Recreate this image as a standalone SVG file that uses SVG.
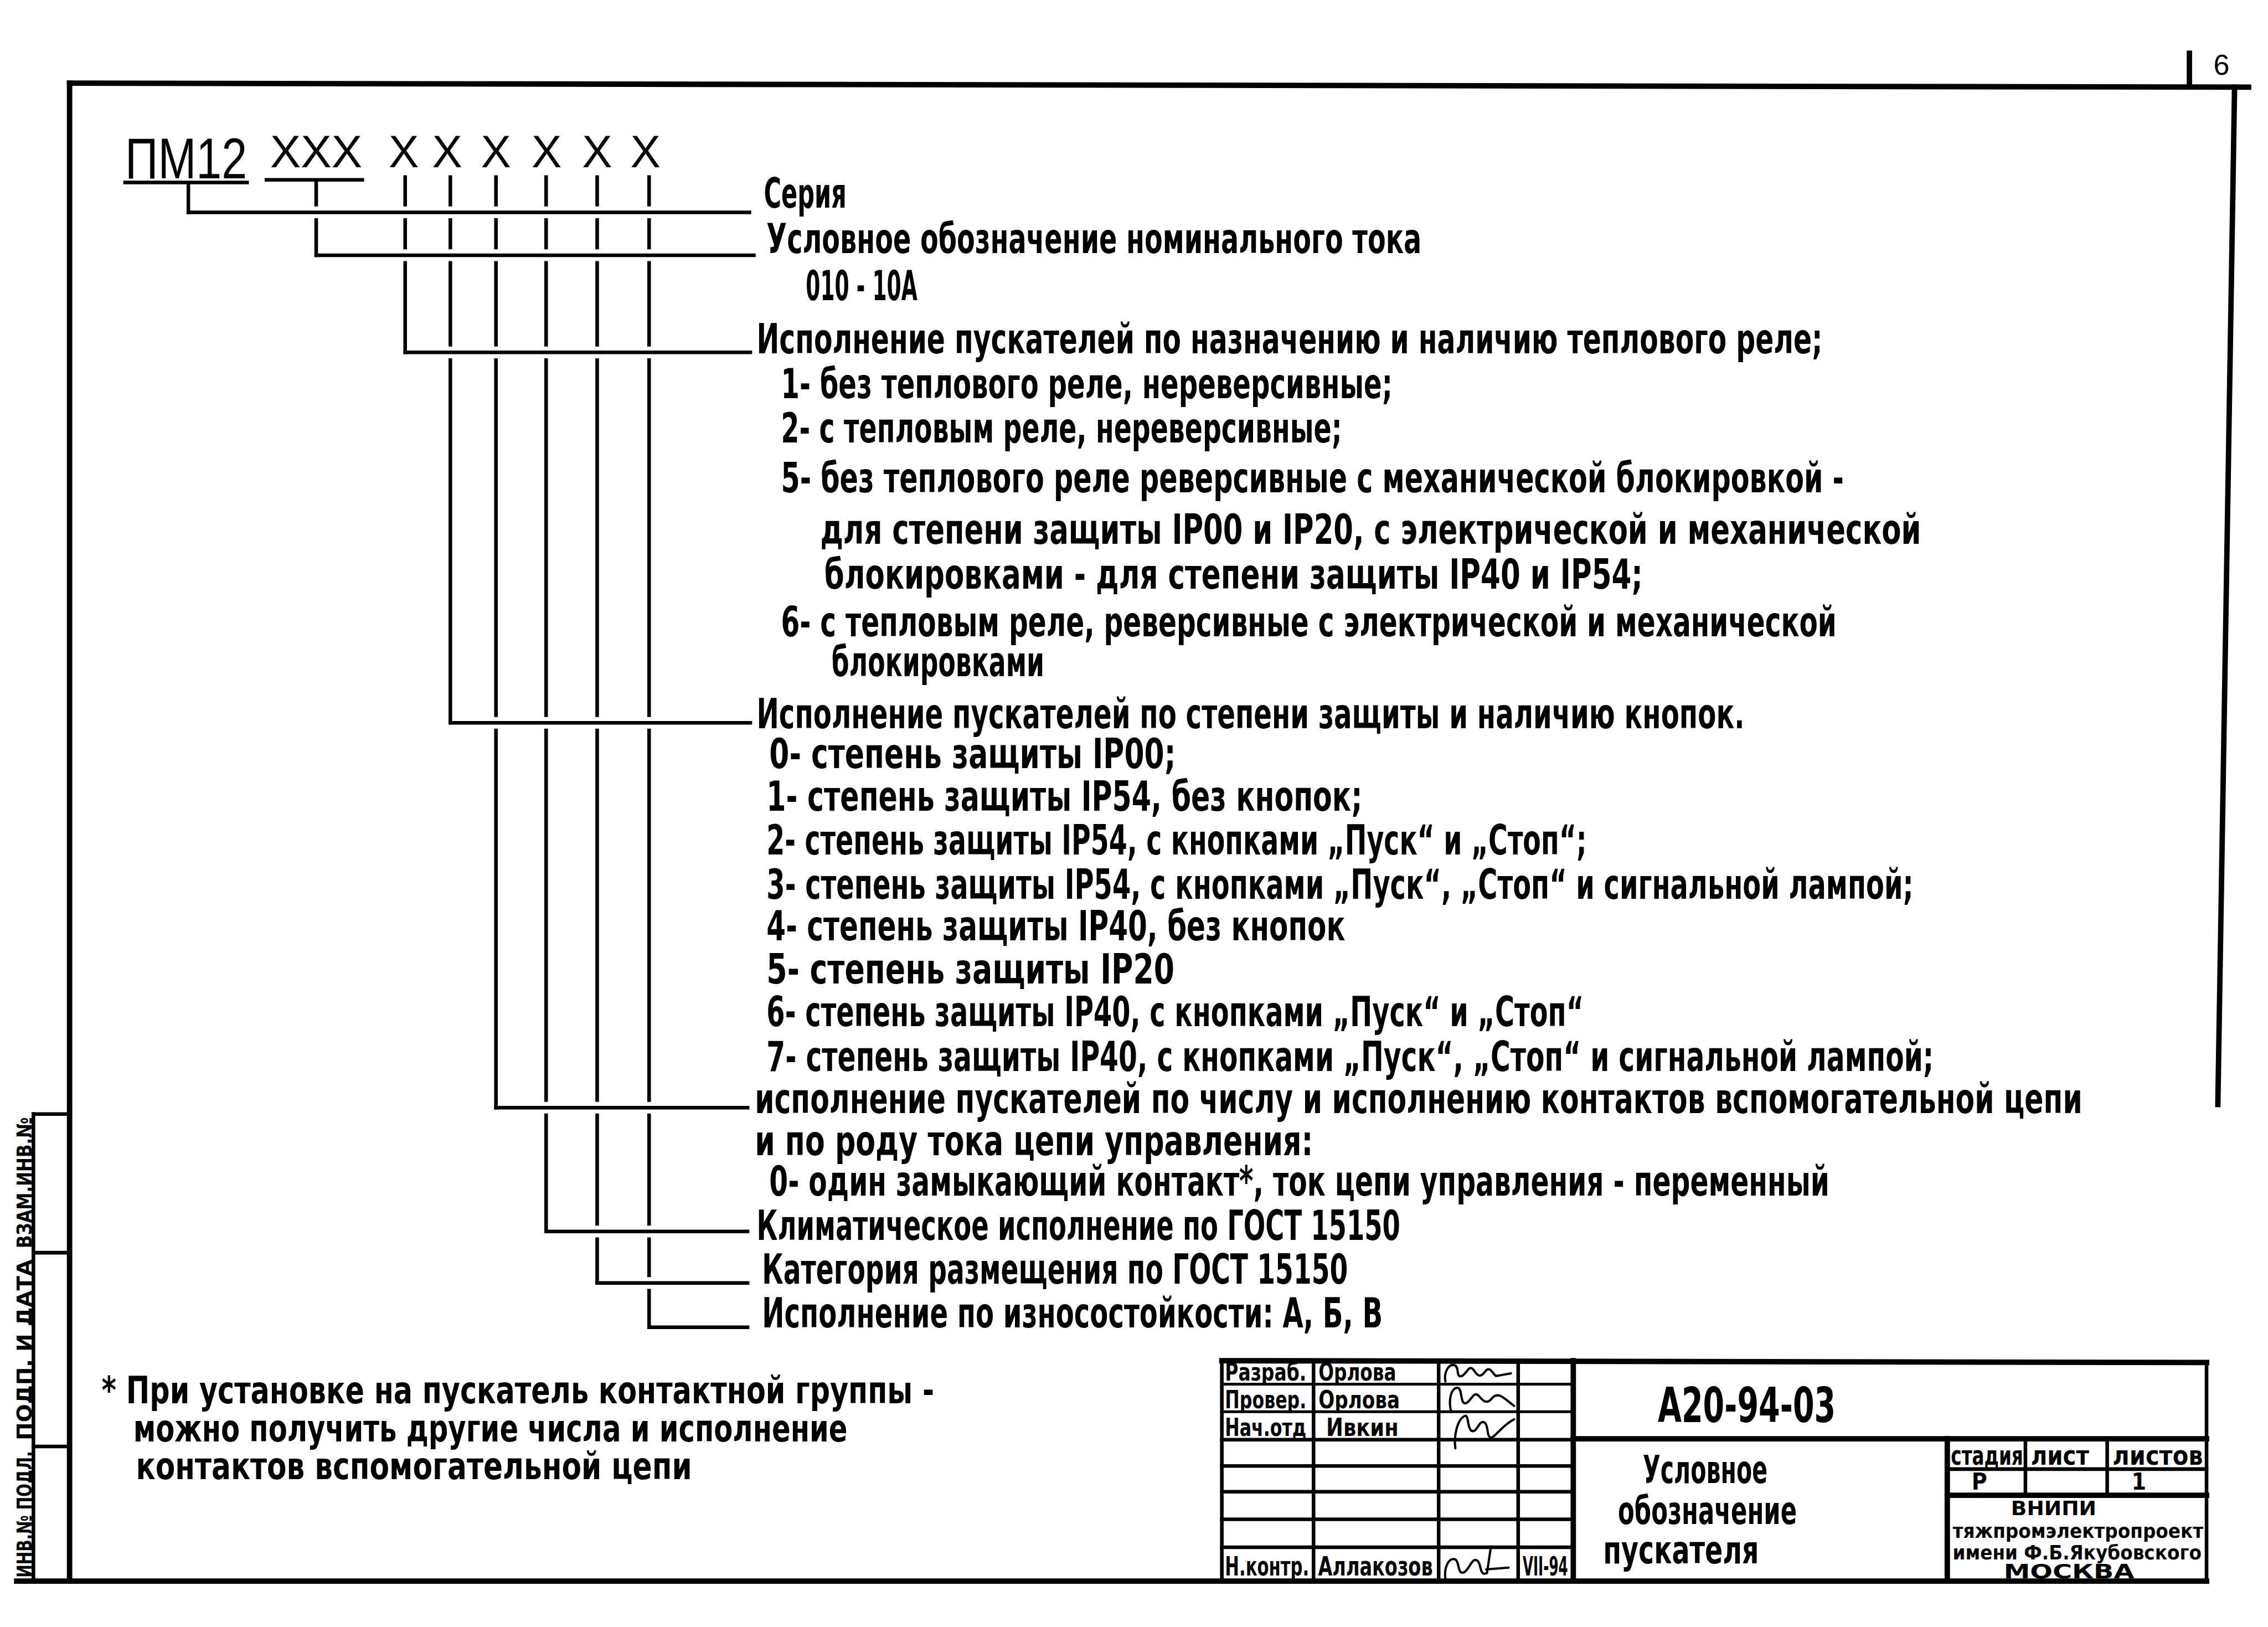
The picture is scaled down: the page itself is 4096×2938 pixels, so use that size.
<svg xmlns="http://www.w3.org/2000/svg" width="4096" height="2938" viewBox="0 0 4096 2938">
<style>
.t{font-family:"Liberation Sans Narrow","DejaVu Sans Condensed","Liberation Sans",sans-serif;font-weight:bold;font-size:92px;fill:#000}
.h{font-family:"Liberation Sans Narrow","Liberation Sans",sans-serif;font-weight:normal;fill:#000}
.s{font-family:"Liberation Sans Narrow","DejaVu Sans Condensed","Liberation Sans",sans-serif;font-weight:bold;fill:#000}
.fr{stroke:#000;stroke-width:12;fill:none;stroke-linecap:square}
.ln{stroke:#000;stroke-width:8;fill:none;stroke-linecap:square}
.th{stroke:#000;stroke-width:6;fill:none}
.halo{stroke:#fff;stroke-width:26;fill:none}
.sig{stroke:#000;stroke-width:5;fill:none;stroke-linecap:round;stroke-linejoin:round}
</style>
<rect width="4096" height="2938" fill="#fff"/>
<g transform="scale(0.81577)">
<g id="frame">
<line class="fr" x1="154" y1="184" x2="4978" y2="193"/>
<line class="fr" x1="154" y1="184" x2="154" y2="3500"/>
<line class="fr" x1="37" y1="3500" x2="4885" y2="3500"/>
<line class="fr" x1="4947" y1="193" x2="4910" y2="2445"/>
<line class="fr" x1="4847" y1="118" x2="4847" y2="190"/>
<text class="h" x="4918" y="165" font-size="64" text-anchor="middle">6</text>
</g>
<g id="stamp">
<line class="ln" x1="74" y1="2466" x2="74" y2="3500"/>
<line class="ln" x1="74" y1="2466" x2="154" y2="2466"/>
<line class="ln" x1="74" y1="2773" x2="154" y2="2773"/>
<line class="ln" x1="74" y1="3202" x2="154" y2="3202"/>
<text class="s" font-size="46" transform="translate(70,2618) rotate(-90)" text-anchor="middle" textLength="290" lengthAdjust="spacingAndGlyphs">ВЗАМ.ИНВ.№</text>
<text class="s" font-size="46" transform="translate(70,2988) rotate(-90)" text-anchor="middle" textLength="400" lengthAdjust="spacingAndGlyphs">ПОДП. И ДАТА</text>
<text class="s" font-size="46" transform="translate(70,3352) rotate(-90)" text-anchor="middle" textLength="280" lengthAdjust="spacingAndGlyphs">ИНВ.№ ПОДЛ.</text>
</g>
<g id="code">
<text class="h" x="277" y="395" font-size="128" textLength="270" lengthAdjust="spacingAndGlyphs">ПМ12</text>
<line class="ln" x1="277" y1="404" x2="547" y2="404"/>
<text class="h" x="598" y="370" font-size="100" textLength="204" lengthAdjust="spacingAndGlyphs">XXX</text>
<line class="ln" x1="590" y1="398" x2="802" y2="398"/>
<g font-size="100" text-anchor="middle">
<text class="h" x="894" y="370">X</text>
<text class="h" x="990" y="370">X</text>
<text class="h" x="1098" y="370">X</text>
<text class="h" x="1210" y="370">X</text>
<text class="h" x="1322" y="370">X</text>
<text class="h" x="1429" y="370">X</text>
</g>
</g>
<g id="connectors">
<line class="ln" x1="897" y1="392" x2="897" y2="780"/>
<line class="ln" x1="997" y1="392" x2="997" y2="1600"/>
<line class="ln" x1="1098" y1="392" x2="1098" y2="2452"/>
<line class="ln" x1="1209" y1="392" x2="1209" y2="2726"/>
<line class="ln" x1="1322" y1="392" x2="1322" y2="2840"/>
<line class="ln" x1="1437" y1="392" x2="1437" y2="2938"/>
<line class="ln" x1="700" y1="406" x2="700" y2="565"/>
<line class="ln" x1="417" y1="410" x2="417" y2="470"/>
<line class="halo" x1="430" y1="470" x2="1659" y2="470"/>
<line class="ln" x1="417" y1="470" x2="1659" y2="470"/>
<line class="halo" x1="713" y1="565" x2="1669" y2="565"/>
<line class="ln" x1="700" y1="565" x2="1669" y2="565"/>
<line class="halo" x1="910" y1="780" x2="1661" y2="780"/>
<line class="ln" x1="897" y1="780" x2="1661" y2="780"/>
<line class="halo" x1="1010" y1="1600" x2="1661" y2="1600"/>
<line class="ln" x1="997" y1="1600" x2="1661" y2="1600"/>
<line class="halo" x1="1111" y1="2452" x2="1655" y2="2452"/>
<line class="ln" x1="1098" y1="2452" x2="1655" y2="2452"/>
<line class="halo" x1="1222" y1="2726" x2="1655" y2="2726"/>
<line class="ln" x1="1209" y1="2726" x2="1655" y2="2726"/>
<line class="halo" x1="1335" y1="2840" x2="1655" y2="2840"/>
<line class="ln" x1="1322" y1="2840" x2="1655" y2="2840"/>
<line class="ln" x1="1437" y1="2938" x2="1655" y2="2938"/>
</g>
<g id="labels">
<text class="t" x="1691" y="460" textLength="183" lengthAdjust="spacingAndGlyphs">Серия</text>
<text class="t" x="1697" y="560" textLength="1450" lengthAdjust="spacingAndGlyphs">Условное обозначение номинального тока</text>
<text class="t" x="1784" y="665" textLength="247" lengthAdjust="spacingAndGlyphs">010 - 10А</text>
<text class="t" x="1675" y="782" textLength="2360" lengthAdjust="spacingAndGlyphs">Исполнение пускателей по назначению и наличию теплового реле;</text>
<text class="t" x="1729" y="881" textLength="1354" lengthAdjust="spacingAndGlyphs">1- без теплового реле, нереверсивные;</text>
<text class="t" x="1729" y="979" textLength="1242" lengthAdjust="spacingAndGlyphs">2- с тепловым реле, нереверсивные;</text>
<text class="t" x="1729" y="1090" textLength="2353" lengthAdjust="spacingAndGlyphs">5- без теплового реле реверсивные с механической блокировкой -</text>
<text class="t" x="1816" y="1204" textLength="2437" lengthAdjust="spacingAndGlyphs">для степени защиты IP00 и IP20, с электрической и механической</text>
<text class="t" x="1825" y="1303" textLength="1812" lengthAdjust="spacingAndGlyphs">блокировками - для степени защиты IP40 и IP54;</text>
<text class="t" x="1729" y="1409" textLength="2337" lengthAdjust="spacingAndGlyphs">6- с тепловым реле, реверсивные с электрической и механической</text>
<text class="t" x="1841" y="1497" textLength="471" lengthAdjust="spacingAndGlyphs">блокировками</text>
<text class="t" x="1675" y="1612" textLength="2187" lengthAdjust="spacingAndGlyphs">Исполнение пускателей по степени защиты и наличию кнопок.</text>
<text class="t" x="1703" y="1700" textLength="900" lengthAdjust="spacingAndGlyphs">0- степень защиты IP00;</text>
<text class="t" x="1697" y="1795" textLength="1319" lengthAdjust="spacingAndGlyphs">1- степень защиты IP54, без кнопок;</text>
<text class="t" x="1697" y="1891" textLength="1816" lengthAdjust="spacingAndGlyphs">2- степень защиты IP54, с кнопками „Пуск“ и „Стоп“;</text>
<text class="t" x="1697" y="1989" textLength="2539" lengthAdjust="spacingAndGlyphs">3- степень защиты IP54, с кнопками „Пуск“, „Стоп“ и сигнальной лампой;</text>
<text class="t" x="1697" y="2082" textLength="1281" lengthAdjust="spacingAndGlyphs">4- степень защиты IP40, без кнопок</text>
<text class="t" x="1697" y="2177" textLength="903" lengthAdjust="spacingAndGlyphs">5- степень защиты IP20</text>
<text class="t" x="1697" y="2272" textLength="1809" lengthAdjust="spacingAndGlyphs">6- степень защиты IP40, с кнопками „Пуск“ и „Стоп“</text>
<text class="t" x="1697" y="2371" textLength="2584" lengthAdjust="spacingAndGlyphs">7- степень защиты IP40, с кнопками „Пуск“, „Стоп“ и сигнальной лампой;</text>
<text class="t" x="1671" y="2464" textLength="2939" lengthAdjust="spacingAndGlyphs">исполнение пускателей по числу и исполнению контактов вспомогательной цепи</text>
<text class="t" x="1671" y="2557" textLength="1236" lengthAdjust="spacingAndGlyphs">и по роду тока цепи управления:</text>
<text class="t" x="1703" y="2647" textLength="2347" lengthAdjust="spacingAndGlyphs">0- один замыкающий контакт*, ток цепи управления - переменный</text>
<text class="t" x="1675" y="2745" textLength="1425" lengthAdjust="spacingAndGlyphs">Климатическое исполнение по ГОСТ 15150</text>
<text class="t" x="1687" y="2842" textLength="1297" lengthAdjust="spacingAndGlyphs">Категория размещения по ГОСТ 15150</text>
<text class="t" x="1687" y="2938" textLength="1374" lengthAdjust="spacingAndGlyphs">Исполнение по износостойкости: А, Б, В</text>
</g>
<g id="footnote" font-size="82">
<text class="s" x="225" y="3106" textLength="1843" lengthAdjust="spacingAndGlyphs">* При установке на пускатель контактной группы -</text>
<text class="s" x="295" y="3191" textLength="1581" lengthAdjust="spacingAndGlyphs">можно получить другие числа и исполнение</text>
<text class="s" x="301" y="3274" textLength="1231" lengthAdjust="spacingAndGlyphs">контактов вспомогательной цепи</text>
</g>
<g id="titleblock">
<line class="fr" x1="2705" y1="3012" x2="4885" y2="3016"/>
<line class="ln" x1="2705" y1="3012" x2="2705" y2="3500"/>
<line class="ln" x1="2908" y1="3012" x2="2908" y2="3500"/>
<line class="ln" x1="3185" y1="3012" x2="3185" y2="3500"/>
<line class="ln" x1="3361" y1="3012" x2="3361" y2="3500"/>
<line class="fr" x1="3483" y1="3012" x2="3483" y2="3500"/>
<line class="th" x1="2705" y1="3064" x2="3483" y2="3064"/>
<line class="th" x1="2705" y1="3125" x2="3483" y2="3125"/>
<line class="ln" x1="2705" y1="3187" x2="3483" y2="3187"/>
<line class="ln" x1="2705" y1="3245" x2="3483" y2="3245"/>
<line class="ln" x1="2705" y1="3302" x2="3483" y2="3302"/>
<line class="ln" x1="2705" y1="3363" x2="3483" y2="3363"/>
<line class="ln" x1="2705" y1="3425" x2="3483" y2="3425"/>
<line class="fr" x1="3483" y1="3185" x2="4885" y2="3185"/>
<line class="fr" x1="4311" y1="3185" x2="4311" y2="3500"/>
<line class="ln" x1="4311" y1="3252" x2="4885" y2="3252"/>
<line class="fr" x1="4311" y1="3310" x2="4885" y2="3310"/>
<line class="ln" x1="4484" y1="3185" x2="4484" y2="3310"/>
<line class="ln" x1="4665" y1="3185" x2="4665" y2="3310"/>
<line class="ln" x1="4885" y1="3016" x2="4885" y2="3500"/>
<g font-size="54">
<text class="s" x="2712" y="3056" textLength="180" lengthAdjust="spacingAndGlyphs">Разраб.</text>
<text class="s" x="2919" y="3056" textLength="172" lengthAdjust="spacingAndGlyphs">Орлова</text>
<text class="s" x="2712" y="3117" textLength="180" lengthAdjust="spacingAndGlyphs">Провер.</text>
<text class="s" x="2919" y="3117" textLength="180" lengthAdjust="spacingAndGlyphs">Орлова</text>
<text class="s" x="2712" y="3178" textLength="180" lengthAdjust="spacingAndGlyphs">Нач.отд</text>
<text class="s" x="2936" y="3178" textLength="160" lengthAdjust="spacingAndGlyphs">Ивкин</text>
</g>
<g font-size="58">
<text class="s" x="2712" y="3488" textLength="186" lengthAdjust="spacingAndGlyphs">Н.контр.</text>
<text class="s" x="2918" y="3488" textLength="254" lengthAdjust="spacingAndGlyphs">Аллакозов</text>
<text class="s" x="3371" y="3488" textLength="100" lengthAdjust="spacingAndGlyphs">VII-94</text>
</g>
<path class="sig" d="M3200,3058 C3196,3040 3206,3018 3220,3022 C3232,3026 3222,3050 3236,3046 C3248,3040 3252,3020 3262,3032 C3270,3044 3276,3052 3288,3036 C3298,3022 3304,3040 3312,3046 L3345,3040"/>
<path class="sig" d="M3212,3122 C3206,3096 3214,3070 3228,3072 C3238,3076 3232,3110 3246,3106 C3258,3100 3262,3078 3274,3090 C3284,3102 3292,3110 3304,3094 C3318,3080 3330,3096 3352,3112"/>
<path class="sig" d="M3222,3206 C3218,3180 3226,3140 3244,3134 C3252,3132 3248,3170 3262,3168 C3272,3166 3276,3140 3288,3150 C3296,3158 3290,3190 3306,3180 C3318,3170 3334,3150 3352,3142"/>
<path class="sig" d="M3200,3495 C3196,3470 3208,3446 3222,3452 C3232,3458 3226,3488 3242,3480 C3254,3472 3260,3444 3272,3456 C3280,3466 3276,3490 3292,3482 L3300,3428 M3290,3474 L3340,3470"/>
<text class="s" x="3670" y="3148" font-size="106" textLength="394" lengthAdjust="spacingAndGlyphs">А20-94-03</text>
<text class="s" x="3637" y="3283" font-size="84" textLength="276" lengthAdjust="spacingAndGlyphs">Условное</text>
<text class="s" x="3582" y="3373" font-size="84" textLength="396" lengthAdjust="spacingAndGlyphs">обозначение</text>
<text class="s" x="3549" y="3460" font-size="84" textLength="345" lengthAdjust="spacingAndGlyphs">пускателя</text>
<text class="s" x="4319" y="3242" font-size="58" textLength="160" lengthAdjust="spacingAndGlyphs">стадия</text>
<text class="s" x="4496" y="3242" font-size="58" textLength="129" lengthAdjust="spacingAndGlyphs">лист</text>
<text class="s" x="4677" y="3242" font-size="58" textLength="200" lengthAdjust="spacingAndGlyphs">листов</text>
<text class="s" x="4382" y="3298" font-size="52" text-anchor="middle">Р</text>
<text class="s" x="4735" y="3298" font-size="52" text-anchor="middle">1</text>
<text class="s" x="4452" y="3354" font-size="44" textLength="189" lengthAdjust="spacingAndGlyphs">ВНИПИ</text>
<text class="s" x="4323" y="3404" font-size="44" textLength="555" lengthAdjust="spacingAndGlyphs">тяжпромэлектропроект</text>
<text class="s" x="4323" y="3452" font-size="44" textLength="551" lengthAdjust="spacingAndGlyphs">имени Ф.Б.Якубовского</text>
<text class="s" x="4436" y="3494" font-size="44" textLength="289" lengthAdjust="spacingAndGlyphs">МОСКВА</text>
</g>
</g>
</svg>
